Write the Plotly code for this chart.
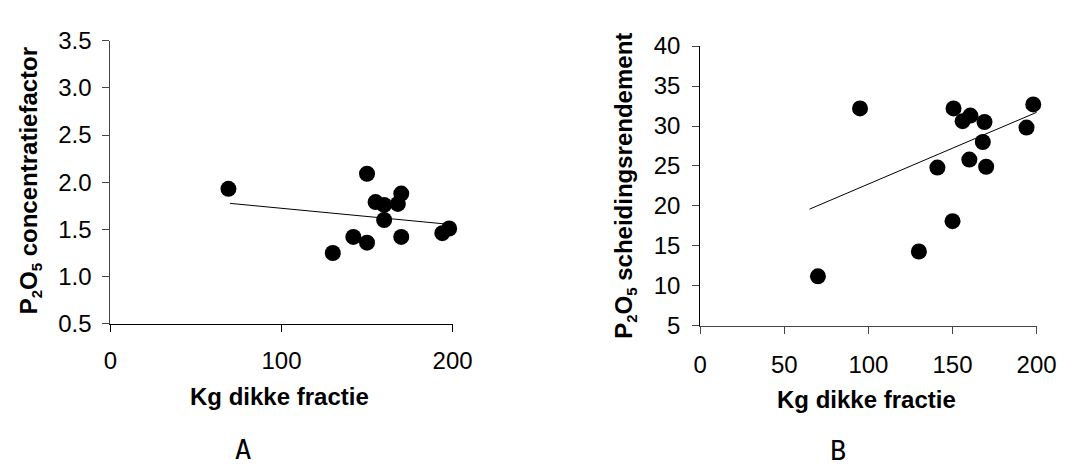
import plotly.graph_objects as go

# Panel A: P2O5 concentratiefactor vs kg dikke fractie
a_kg = [69, 130, 142, 150, 150, 155, 160, 160, 168, 170, 170, 194, 198]
a_factor = [1.93, 1.25, 1.42, 1.36, 2.09, 1.79, 1.76, 1.60, 1.77, 1.88, 1.42, 1.46, 1.51]
a_trend_kg = [70, 194.5]
a_trend_factor = [1.776, 1.56]

# Panel B: P2O5 scheidingsrendement vs kg dikke fractie
b_kg = [70, 95, 130, 141, 150, 150.6, 156, 160.6, 160, 168, 169, 170, 194, 198]
b_rendement = [11.2, 32.2, 14.3, 24.8, 18.1, 32.2, 30.6, 31.3, 25.8, 28.0, 30.5, 24.9, 29.8, 32.7]
b_trend_kg = [65, 201]
b_trend_rendement = [19.6, 31.8]

W, H = 1081, 474
FONT = "Liberation Sans, Arial, sans-serif"

fig = go.Figure()

marker = dict(color="black", size=16, line=dict(width=0))
fig.add_trace(go.Scatter(x=a_kg, y=a_factor, mode="markers", marker=marker,
                         xaxis="x", yaxis="y", showlegend=False, cliponaxis=False))
fig.add_trace(go.Scatter(x=a_trend_kg, y=a_trend_factor, mode="lines",
                         line=dict(color="black", width=1),
                         xaxis="x", yaxis="y", showlegend=False))
fig.add_trace(go.Scatter(x=b_kg, y=b_rendement, mode="markers", marker=marker,
                         xaxis="x2", yaxis="y2", showlegend=False, cliponaxis=False))
fig.add_trace(go.Scatter(x=b_trend_kg, y=b_trend_rendement, mode="lines",
                         line=dict(color="black", width=1),
                         xaxis="x2", yaxis="y2", showlegend=False, cliponaxis=False))

tickfont = dict(family=FONT, size=24, color="black")
axis_common = dict(showgrid=False, zeroline=False, showline=True, linewidth=1,
                   ticks="outside", ticklen=7, tickwidth=1, tickfont=tickfont)

def px_x(p):
    return p / W

def px_y(p):
    return 1 - p / H

fig.update_layout(
    width=W, height=H,
    margin=dict(l=0, r=0, t=0, b=0),
    paper_bgcolor="white", plot_bgcolor="white",
    xaxis=dict(domain=[px_x(106), px_x(457)], range=[0, 200], dtick=100,
               anchor="y", linecolor="black", tickcolor="black",
               ticklabelstandoff=8, **axis_common),
    yaxis=dict(domain=[px_y(328.5), px_y(28.3)], range=[0.5, 3.5], dtick=0.5,
               tickformat=".1f", anchor="x", linecolor="#444", tickcolor="#444",
               ticklabelstandoff=6, **axis_common),
    xaxis2=dict(domain=[px_x(711), px_x(1056)], range=[0, 200], dtick=50,
                anchor="y2", linecolor="#444", tickcolor="#444",
                ticklabelstandoff=10, **axis_common),
    yaxis2=dict(domain=[px_y(330.7), px_y(34)], range=[5, 40], dtick=5,
                anchor="x2", linecolor="black", tickcolor="#444",
                ticklabelstandoff=7, **axis_common),
)

title_font = dict(family=FONT, size=24, color="black")
sub = '<sub><span style="font-size:15px">{}</span></sub>'
p2o5 = "P" + sub.format("2") + "O" + sub.format("5")
ann = [
    dict(text="<b>Kg dikke fractie</b>", x=px_x(279), y=px_y(406)),
    dict(text="<b>Kg dikke fractie</b>", x=px_x(882), y=px_y(409)),
    dict(text="<b>" + p2o5 + " concentratiefactor</b>",
         x=px_x(23), y=px_y(177), textangle=-90),
    dict(text="<b>" + p2o5 + " scheidingsrendement</b>",
         x=px_x(633), y=px_y(182), textangle=-90),
]
for a in ann:
    fig.add_annotation(xref="paper", yref="paper", showarrow=False,
                       xanchor="center", yanchor="middle", font=title_font, **a)

panel_font = dict(family="DejaVu Sans Mono, monospace", size=27, color="black")
fig.add_annotation(text="A", x=px_x(242), y=px_y(462), xref="paper", yref="paper",
                   showarrow=False, xanchor="center", yanchor="middle", font=panel_font)
fig.add_annotation(text="B", x=px_x(852), y=px_y(463), xref="paper", yref="paper",
                   showarrow=False, xanchor="center", yanchor="middle", font=panel_font)

# Page without body margin so the 1081x474 figure sits at the window origin
fig.write_html(
    "out.html",
    post_script="document.body.style.margin='0';"
                "document.documentElement.style.overflow='hidden';",
)
